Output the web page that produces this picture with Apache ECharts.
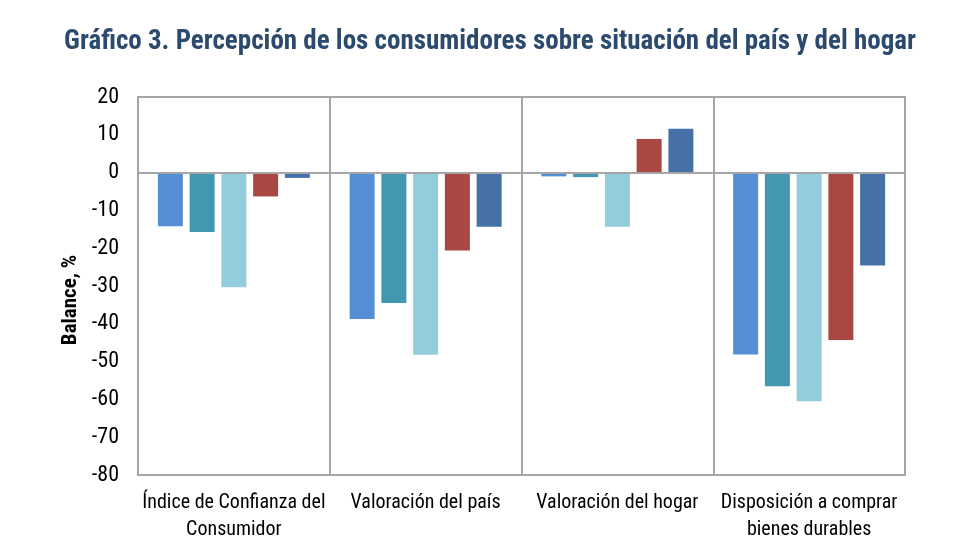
<!DOCTYPE html>
<html>
<head>
<meta charset="utf-8">
<script src="https://cdn.jsdelivr.net/npm/echarts@6/dist/echarts.min.js"></script>
<style>
html,body{margin:0;padding:0;background:#fff;}
#chart{width:980px;height:560px;}
</style>
</head>
<body>
<div id="chart"></div>
<script>
const categories = ["Índice de Confianza del\nConsumidor", "Valoración del país", "Valoración del hogar", "Disposición a comprar\nbienes durables"];
const serie1 = [-14.2, -38.7, -1.0, -48.1];
const serie2 = [-15.7, -34.5, -1.2, -56.5];
const serie3 = [-30.3, -48.2, -14.3, -60.5];
const serie4 = [-6.3, -20.6, 8.9, -44.3];
const serie5 = [-1.4, -14.3, 11.6, -24.6];
const colors = ["#558ED5", "#4198AF", "#93CDDD", "#A94743", "#4571A7"];

const narrow = "'Liberation Sans Narrow', 'Arial Narrow', 'Roboto Condensed', 'Liberation Sans', sans-serif";
const chart = echarts.init(document.getElementById('chart'), null, {renderer: 'canvas'});
const allSeries = [serie1, serie2, serie3, serie4, serie5].map((d, i) => ({
  type: 'bar',
  data: d,
  barWidth: 25,
  barGap: '27%',
  itemStyle: {color: colors[i]},
  z: 2,
  markLine: i === 0 ? {
    silent: true,
    symbol: 'none',
    label: {show: false},
    lineStyle: {color: '#A6A6A6', width: 2, type: 'solid'},
    data: [{yAxis: 0}],
    z: 3
  } : undefined
}));

chart.setOption({
  animation: false,
  title: {
    text: 'Gráfico 3. Percepción de los consumidores sobre situación del país y del hogar',
    left: 'center',
    top: 24,
    textStyle: {fontFamily: narrow, fontWeight: 'bold', fontSize: 27, color: '#2C4A6E'}
  },
  graphic: [{
    type: 'text',
    x: 71,
    y: 300,
    rotation: Math.PI / 2,
    style: {
      text: 'Balance, %',
      align: 'center',
      verticalAlign: 'middle',
      fontFamily: narrow,
      fontSize: 21,
      fontWeight: 'bold',
      fill: '#000'
    }
  }],
  grid: {left: 138, right: 75, top: 97, bottom: 85, show: true, borderColor: '#A6A6A6', borderWidth: 2, backgroundColor: 'transparent'},
  xAxis: {
    type: 'category',
    data: categories,
    axisLine: {show: false, onZero: false},
    axisTick: {show: false},
    splitLine: {show: true, lineStyle: {color: '#A6A6A6', width: 2}},
    axisLabel: {fontFamily: narrow, fontSize: 20, color: '#000', margin: 14, lineHeight: 27, interval: 0}
  },
  yAxis: {
    type: 'value',
    min: -80, max: 20, interval: 10,
    axisLine: {show: false},
    axisTick: {show: false},
    splitLine: {show: false},
    axisLabel: {fontFamily: narrow, fontSize: 22, color: '#000', margin: 19}
  },
  series: allSeries
});
</script>
</body>
</html>
